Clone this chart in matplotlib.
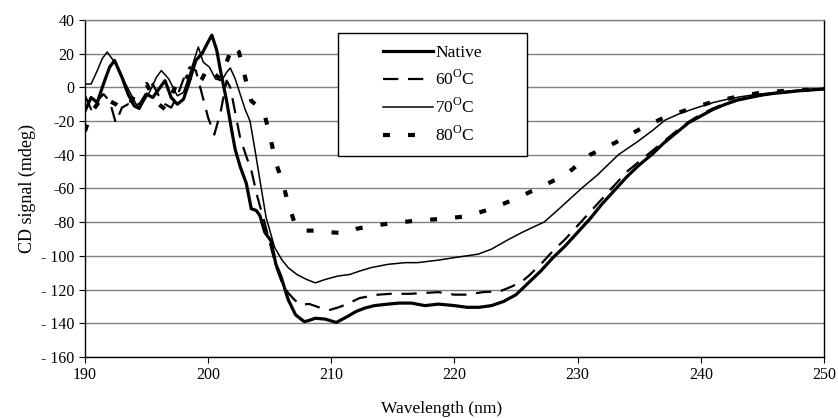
import numpy as np
import matplotlib
matplotlib.use('Agg')
import matplotlib.pyplot as plt
from matplotlib.patches import Rectangle

plt.rcParams['font.family'] = ['Liberation Serif', 'DejaVu Serif']
plt.rcParams['mathtext.fontset'] = 'custom'
plt.rcParams['mathtext.rm'] = 'Liberation Serif'
plt.rcParams['axes.unicode_minus'] = False
plt.rcParams['lines.scale_dashes'] = False

# Native
wl_nat = [190, 190.5, 191, 191.5, 192, 192.4, 193, 193.5, 194, 194.4, 195, 195.5, 196, 196.5, 197, 197.5,
          198, 198.5, 199, 199.5, 200, 200.3, 200.7, 201, 201.5, 201.9, 202.2, 202.6, 203.1, 203.5, 203.9,
          204.2, 204.6, 205.1, 205.5, 205.9, 206.5, 207.1, 207.8, 208.1, 208.7, 209.5, 210.4, 211.3, 212,
          212.7, 213.5, 214.6, 215.5, 216.5, 217.6, 218.7, 220, 221, 222, 223, 224, 225, 226, 227, 228, 229,
          230, 231, 232, 233, 234, 235, 236, 237, 238, 239, 240, 241, 242, 243, 244, 245, 246, 247, 248, 249, 250]
cd_nat = [-14, -6, -9, 2, 12, 16, 6, -4, -11, -12.5, -4, -6, -1, 4, -6, -10,
          -7, 4, 16, 20, 27, 31, 22, 10, -8, -25, -37, -47, -57, -72, -73,
          -76, -86, -91, -105, -112, -126, -135, -139, -138.5, -137, -137.5, -139.5, -136, -133,
          -131, -129.5, -128.6, -128, -128, -129.5, -128.6, -129.5, -130.5, -130.5, -129.5, -127, -123, -116, -109, -101, -94,
          -86, -78, -69, -61, -53, -46, -40, -33, -27, -21, -17, -13, -10, -7.5, -6, -4.5, -3.5, -2.8, -2, -1.5, -1]

# 60 C
wl_60 = [190, 190.5, 191, 191.5, 192, 192.5, 193, 193.5, 194, 194.5, 195, 195.5, 196, 196.5, 197, 197.5,
         198, 198.5, 199, 199.5, 200, 200.5, 201, 201.5, 201.8, 202.2, 202.6, 203.1, 203.5, 204, 204.5, 205,
         205.5, 206, 206.5, 207, 207.5, 208.2, 208.8, 209.4, 209.9, 210.6, 211.3, 212.3, 213.8, 214.8, 216.4,
         217.5, 218.7, 220, 221, 222.3, 223.7, 224.7, 225.5, 226, 227, 228, 229, 230, 231, 232, 233, 234,
         235, 236, 237, 238, 239, 240, 241, 242, 243, 244, 245, 246, 247, 248, 249, 250]
cd_60 = [-5, -13, -8, -4, -8, -21, -12, -10, -12, -9, -3, 2, -5, -10, -12, -5,
         5, 12, 10, -4, -18, -28, -15, 4, 0, -15, -30, -41, -49, -65, -78, -92,
         -106, -116, -122, -126, -129, -128.5, -130, -131.5, -132, -130.5, -128.5, -125, -123, -122.5, -122.5,
         -122, -121.5, -123, -123, -121.5, -121, -118, -115, -112, -105, -97, -90, -82, -74, -66, -58, -50,
         -44, -38, -32, -26, -20.5, -16, -12.5, -9.5, -7.3, -5.8, -4.5, -3.4, -2.7, -2, -1.5, -1]

# 70 C
wl_70 = [190, 190.5, 191, 191.4, 191.8, 192.3, 192.8, 193.3, 193.8, 194.3, 194.8, 195.3, 195.8, 196.2, 196.8,
         197.5, 198, 198.5, 199.2, 199.6, 200.1, 200.6, 201.1, 201.5, 201.8, 202.2, 202.6, 203, 203.4, 203.8,
         204.2, 204.7, 205.4, 206, 206.5, 207.2, 208, 208.7, 209.5, 210.5, 211.5, 212.3, 213.2, 214.6, 216,
         217, 218.7, 220, 221.9, 223, 224.3, 225.5, 227.3, 228.5, 230.3, 231.6, 233.3, 234.9, 236, 237.1,
         238.3, 239.5, 241, 242, 243.2, 244.5, 246.5, 248, 250]
cd_70 = [2, 2, 10, 17, 21, 16, 10, 2, -5, -12, -8, -2, 6, 10, 5,
         -5, -3, 8, 24, 15, 12, 5, 4, 9, 11.5, 5, -4, -13, -20, -37,
         -55, -77, -95, -102.5, -107, -111, -114, -116, -114, -112, -111, -109, -107, -105, -104,
         -104, -102.5, -101, -99, -96, -90.6, -86, -79.8, -72, -60, -52, -40, -32, -26, -19.4,
         -15.5, -12.5, -9, -7.3, -5.6, -4.2, -2.6, -1.6, -0.6]

# 80 C
wl_80 = [190, 190.5, 191, 191.5, 192, 192.5, 193, 193.5, 194, 194.5, 195, 195.5, 196, 196.5, 197, 197.5,
         198, 198.5, 199, 199.5, 200, 200.5, 201, 201.5, 202, 202.5, 203, 203.5, 204, 204.5, 205, 205.5,
         206, 206.5, 207, 207.5, 208, 209, 210, 211, 212, 213, 215, 217, 219, 221, 223, 225, 227, 229,
         231, 233, 235, 237, 239, 241, 243, 245, 247, 250]
cd_80 = [-26, -15, -10, -5, -8, -10, -13, -12, -5, 0, 2, -5, -10, -13, -5, 3,
         8, 5, 0, 5, 12, 8, 5, 15, 25, 21, 6, -8, -11, -14, -28, -45,
         -55, -69, -80, -85, -85, -85, -86, -86.5, -84, -82.5, -80.5, -79, -78, -76.5, -72, -66, -59, -52,
         -40, -33, -25, -18, -13, -8.5, -5.5, -3, -2, -1]

xticks = [190, 200, 210, 220, 230, 240, 250]
yticks = [-160, -140, -120, -100, -80, -60, -40, -20, 0, 20, 40]
ytick_labels = ['- 160', '- 140', '- 120', '- 100', '-80', '-60', '-40', '-20', '0', '20', '40']
labels = ['Native', '60$^{\\mathrm{O}}$C', '70$^{\\mathrm{O}}$C', '80$^{\\mathrm{O}}$C']

fig = plt.figure(figsize=(8.38, 4.18), dpi=100)
ax = fig.add_axes([0.1014, 0.1459, 0.8819, 0.8063])

ax.plot(wl_nat, cd_nat, color='black', lw=2.3, label=labels[0], zorder=4)
ax.plot(wl_60, cd_60, color='black', lw=1.6, linestyle=(0, (11, 7)), label=labels[1], zorder=4)
ax.plot(wl_70, cd_70, color='black', lw=1.1, label=labels[2], zorder=4)
ax.plot(wl_80, cd_80, color='black', lw=3.0, linestyle=(0, (5, 13)), label=labels[3], zorder=4)

ax.set_xlim(190, 250)
ax.set_ylim(-160, 40)
ax.set_xticks(xticks)
ax.set_yticks(yticks)
ax.set_yticklabels(ytick_labels)
ax.tick_params(labelsize=11.5, length=4, direction='out', color='black')
ax.yaxis.grid(True, color='#808080', lw=1.0)
ax.set_axisbelow(True)
for s in ax.spines.values():
    s.set_color('black')
    s.set_linewidth(1.0)
ax.spines['top'].set_color('#808080')

ax.set_xlabel('Wavelength (nm)', fontsize=12.5)
ax.xaxis.set_label_coords(0.482, -0.13)
ax.set_ylabel('CD signal (mdeg)', fontsize=13, labelpad=4)

# legend box
box = Rectangle((0.342, 0.596), 0.256, 0.365, transform=ax.transAxes,
                facecolor='white', edgecolor='black', lw=1.0, zorder=5)
ax.add_patch(box)
leg = ax.legend(loc='center', bbox_to_anchor=(0.47, 0.778), frameon=False,
                fontsize=12.5, handlelength=2.9, handletextpad=0.15, labelspacing=0.5)
leg.set_zorder(6)

plt.savefig('out.png', dpi=100)
